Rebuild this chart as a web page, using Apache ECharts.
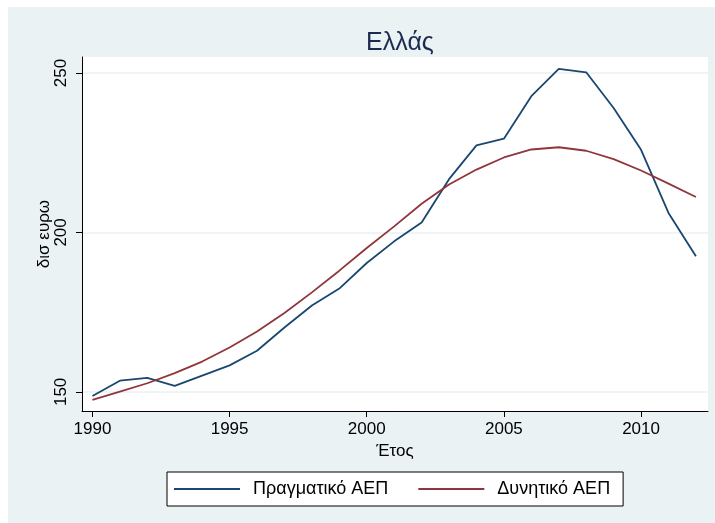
<!DOCTYPE html>
<html>
<head>
<meta charset="utf-8">
<script src="https://cdn.jsdelivr.net/npm/echarts@6/dist/echarts.min.js"></script>
<style>
  html, body { margin: 0; padding: 0; background: #fff; }
  #chart { width: 715px; height: 523px; }
</style>
</head>
<body>
<div id="chart"></div>
<script>
// data
const years = [1990, 1991, 1992, 1993, 1994, 1995, 1996, 1997, 1998, 1999, 2000,
  2001, 2002, 2003, 2004, 2005, 2006, 2007, 2008, 2009, 2010, 2011, 2012]
const actualGdp = [148.7, 153.5, 154.4, 151.9, 155.1, 158.3, 162.9, 170.2, 177.1, 182.4, 190.4,
  197.2, 203.1, 216.7, 227.3, 229.4, 242.7, 251.3, 250.2, 239.0, 225.9, 206.1, 192.5]
const potentialGdp = [147.5, 150.1, 152.7, 155.9, 159.5, 163.9, 168.9, 174.7, 181.2, 188.0, 195.1,
  201.9, 209.0, 215.0, 219.7, 223.5, 226.0, 226.7, 225.6, 223.0, 219.4, 215.3, 211.1]
const xTicks = [1990, 1995, 2000, 2005, 2010]
const yTicks = [150, 200, 250]
const seriesNames = ['Πραγματικό ΑΕΠ', 'Δυνητικό ΑΕΠ']

const font = '"Liberation Sans", Arial, sans-serif'
const chart = echarts.init(document.getElementById('chart'))

const pairs = (vals) => years.map((y, i) => [y, vals[i]])

chart.setOption({
  backgroundColor: '#fff',
  animation: false,
  graphic: [{
    type: 'rect',
    z: -10,
    silent: true,
    shape: { x: 8, y: 7, width: 707, height: 516 },
    style: { fill: '#EAF2F3' }
  }],
  title: {
    text: 'Ελλάς',
    left: 395,
    textAlign: 'center',
    top: 26,
    textStyle: { fontFamily: font, fontWeight: 'normal', fontSize: 25, color: '#1C2B50' }
  },
  legend: {
    left: 167,
    top: 472,
    padding: [8, 13, 8, 7],
    itemGap: 30,
    itemWidth: 66,
    itemHeight: 2,
    icon: 'rect',
    backgroundColor: '#fff',
    borderColor: '#000',
    borderWidth: 1,
    borderRadius: 0,
    textStyle: { fontFamily: font, fontSize: 18, color: '#000', padding: [0, 0, 0, 8] },
    data: seriesNames
  },
  grid: {
    left: 82,
    right: 7,
    top: 57,
    bottom: 112,
    show: true,
    backgroundColor: '#fff',
    borderWidth: 0
  },
  xAxis: {
    type: 'value',
    min: 1989.62,
    max: 2012.44,
    name: 'Έτος',
    nameLocation: 'middle',
    nameGap: 32,
    nameTextStyle: { fontFamily: font, fontSize: 17, color: '#000' },
    axisLine: { show: true, onZero: false, lineStyle: { color: '#000', width: 1 } },
    axisTick: { show: true, length: 6, customValues: xTicks, lineStyle: { color: '#000' } },
    axisLabel: {
      customValues: xTicks, margin: 10, fontFamily: font, fontSize: 17, color: '#000',
      formatter: (v) => String(v)
    },
    splitLine: { show: false }
  },
  yAxis: {
    type: 'value',
    min: 144,
    max: 255,
    name: 'δισ ευρω',
    nameLocation: 'middle',
    nameGap: 29,
    nameMoveOverlap: false,
    nameRotate: 90,
    nameTextStyle: { fontFamily: font, fontSize: 17, color: '#000' },
    axisLine: { show: true, onZero: false, lineStyle: { color: '#000', width: 1 } },
    axisTick: { show: true, length: 6, customValues: yTicks, lineStyle: { color: '#000' } },
    axisLabel: { customValues: yTicks, rotate: 90, margin: 12, fontFamily: font, fontSize: 17, color: '#000' },
    splitLine: { show: true, lineStyle: { color: '#EAF2F3', width: 1.5 } }
  },
  series: [
    {
      name: seriesNames[0],
      type: 'line',
      data: pairs(actualGdp),
      symbol: 'none',
      color: '#1A476F',
      lineStyle: { width: 1.8, color: '#1A476F' }
    },
    {
      name: seriesNames[1],
      type: 'line',
      data: pairs(potentialGdp),
      symbol: 'none',
      color: '#90353B',
      lineStyle: { width: 1.8, color: '#90353B' }
    }
  ]
})
</script>
</body>
</html>
